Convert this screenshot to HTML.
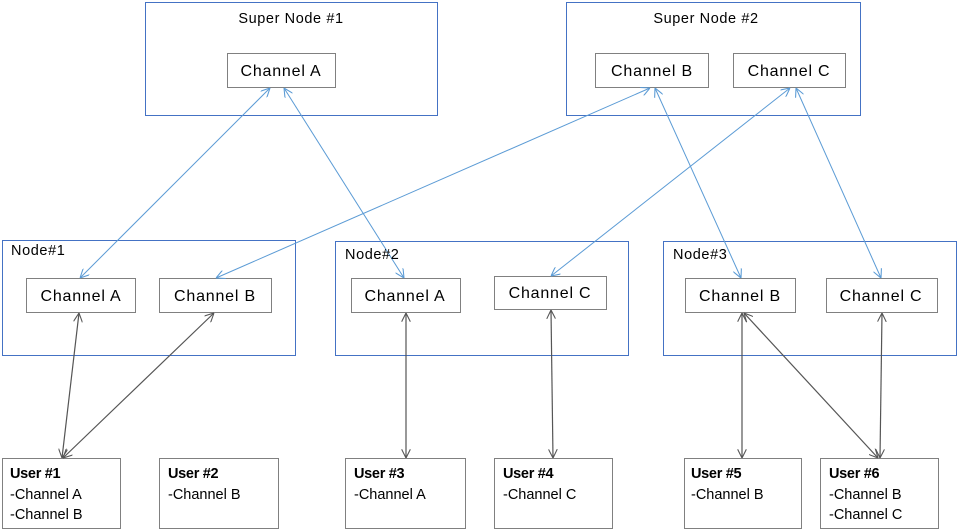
<!DOCTYPE html>
<html><head><meta charset="utf-8"><style>
html,body{margin:0;padding:0;background:#fff;width:957px;height:532px;overflow:hidden}
svg text{font-family:"Liberation Sans","DejaVu Sans",sans-serif;fill:#000}
</style></head><body>
<svg width="957" height="532" viewBox="0 0 957 532" xmlns="http://www.w3.org/2000/svg">
<defs>
<marker id="ab" viewBox="0 0 10 10" refX="10" refY="5" markerWidth="9" markerHeight="9" orient="auto-start-reverse" markerUnits="userSpaceOnUse"><path d="M0,0 L10,5 L0,10" fill="none" stroke="#5b9bd5" stroke-width="1.2"/></marker>
<marker id="ak" viewBox="0 0 10 10" refX="10" refY="5" markerWidth="9" markerHeight="9" orient="auto-start-reverse" markerUnits="userSpaceOnUse"><path d="M0,0 L10,5 L0,10" fill="none" stroke="#555" stroke-width="1.2"/></marker>
</defs>
<g fill="none" stroke="#4472c4" stroke-width="1">
<rect x="145.5" y="2.5" width="292" height="113"/>
<rect x="566.5" y="2.5" width="294" height="113"/>
<rect x="2.5" y="240.5" width="293" height="115"/>
<rect x="335.5" y="241.5" width="293" height="114"/>
<rect x="663.5" y="241.5" width="293" height="114"/>
</g>
<g fill="#fff" stroke="#808080" stroke-width="1">
<rect x="227.5" y="53.5" width="108" height="34"/>
<rect x="595.5" y="53.5" width="113" height="34"/>
<rect x="733.5" y="53.5" width="112" height="34"/>
<rect x="26.5" y="278.5" width="109" height="34"/>
<rect x="159.5" y="278.5" width="112" height="34"/>
<rect x="351.5" y="278.5" width="109" height="34"/>
<rect x="494.5" y="276.5" width="112" height="33"/>
<rect x="685.5" y="278.5" width="110" height="34"/>
<rect x="826.5" y="278.5" width="111" height="34"/>
<rect x="2.5" y="458.5" width="118" height="70"/>
<rect x="159.5" y="458.5" width="119" height="70"/>
<rect x="345.5" y="458.5" width="120" height="70"/>
<rect x="494.5" y="458.5" width="118" height="70"/>
<rect x="684.5" y="458.5" width="117" height="70"/>
<rect x="820.5" y="458.5" width="118" height="70"/>
</g>
<g stroke="#5b9bd5" stroke-width="1" marker-start="url(#ab)" marker-end="url(#ab)">
<line x1="270" y1="88" x2="80" y2="278"/>
<line x1="284" y1="88" x2="404" y2="278"/>
<line x1="650" y1="88" x2="216" y2="278"/>
<line x1="655" y1="88" x2="741" y2="278"/>
<line x1="790" y1="88" x2="551" y2="276"/>
<line x1="796" y1="88" x2="881" y2="278"/>
</g>
<g stroke="#555" stroke-width="1.2" marker-start="url(#ak)" marker-end="url(#ak)">
<line x1="79" y1="313" x2="62" y2="458"/>
<line x1="214" y1="313" x2="63" y2="458"/>
<line x1="406" y1="313" x2="406" y2="458"/>
<line x1="551" y1="310" x2="553" y2="458"/>
<line x1="742" y1="313" x2="742" y2="458"/>
<line x1="744" y1="313" x2="878" y2="458"/>
<line x1="882" y1="313" x2="880" y2="458"/>
</g>
<g font-size="14.5" letter-spacing="0.6">
<text x="291" y="23" text-anchor="middle">Super Node #1</text>
<text x="706" y="23" text-anchor="middle">Super Node  #2</text>
<text x="11" y="255">Node#1</text>
<text x="345" y="259">Node#2</text>
<text x="673" y="259">Node#3</text>
</g>
<g font-size="16" letter-spacing="0.8" text-anchor="middle">
<text x="281" y="76">Channel A</text>
<text x="652" y="76">Channel B</text>
<text x="789" y="76">Channel C</text>
<text x="81" y="301">Channel A</text>
<text x="215" y="301">Channel B</text>
<text x="405" y="301">Channel A</text>
<text x="550" y="298">Channel C</text>
<text x="740" y="301">Channel B</text>
<text x="881" y="301">Channel C</text>
</g>
<g font-size="14.5">
<text x="10" y="478" font-weight="bold" letter-spacing="-0.3">User #1</text><text x="10" y="499">-Channel A</text><text x="10" y="519">-Channel B</text>
<text x="168" y="478" font-weight="bold" letter-spacing="-0.3">User #2</text><text x="168" y="499">-Channel B</text>
<text x="354" y="478" font-weight="bold" letter-spacing="-0.3">User #3</text><text x="354" y="499">-Channel A</text>
<text x="503" y="478" font-weight="bold" letter-spacing="-0.3">User #4</text><text x="503" y="499">-Channel C</text>
<text x="691" y="478" font-weight="bold" letter-spacing="-0.3">User #5</text><text x="691" y="499">-Channel B</text>
<text x="829" y="478" font-weight="bold" letter-spacing="-0.3">User #6</text><text x="829" y="499">-Channel B</text><text x="829" y="519">-Channel C</text>
</g>
</svg>
</body></html>
